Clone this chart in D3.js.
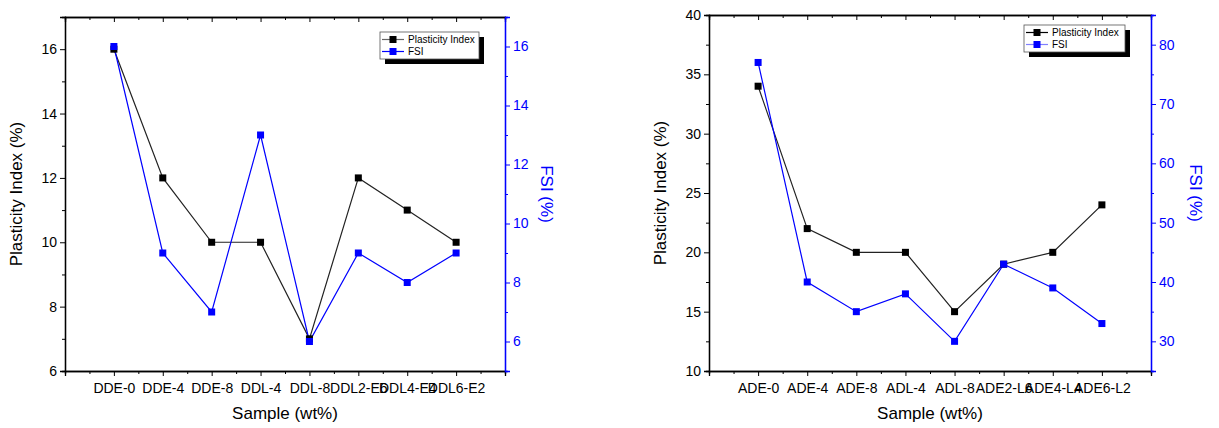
<!DOCTYPE html>
<html><head><meta charset="utf-8">
<script src="https://cdn.jsdelivr.net/npm/d3@7"></script>
<style>body{margin:0;background:#fff;} svg{display:block;font-family:"Liberation Sans",Arial,sans-serif;}</style>
</head><body><svg id="c" width="1219" height="428"></svg>
<script>
const categoriesLeft = ["DDE-0","DDE-4","DDE-8","DDL-4","DDL-8","DDL2-E6","DDL4-E4","DDL6-E2"];
const plasticityLeft = [16,12,10,10,7,12,11,10];
const fsiLeft = [16,9,7,13,6,9,8,9];
const categoriesRight = ["ADE-0","ADE-4","ADE-8","ADL-4","ADL-8","ADE2-L6","ADE4-L4","ADE6-L2"];
const plasticityRight = [34,22,20,20,15,19,20,24];
const fsiRight = [77,40,35,38,30,43,39,33];
const leftPITicks = [6,8,10,12,14,16];
const leftFSITicks = [6,8,10,12,14,16];
const rightPITicks = [10,15,20,25,30,35,40];
const rightFSITicks = [30,40,50,60,70,80];

const svg = d3.select("#c");
const BLUE = "#0000ff";

function panel(o){
  const g = svg.append("g");
  const x = d3.scaleLinear().domain([0, o.cats.length+1]).range([o.x0, o.x1]);
  const y = d3.scaleLinear().domain(o.piDom).range([o.y1, o.y0]);
  const y2 = d3.scaleLinear().domain(o.fsiDom).range([o.y1, o.y0]);
  const idx = d3.range(1, o.cats.length+1);
  const minorX = d3.range(0.5, o.cats.length+1, 1);

  // bottom axis
  const bx = g.append("g").attr("transform",`translate(0,${o.y1})`)
    .call(d3.axisBottom(x).tickValues(d3.range(0,o.cats.length+2)).tickSize(5).tickFormat(d => (d>=1 && d<=o.cats.length) ? o.cats[d-1] : ""));
  bx.selectAll("text").attr("font-size","14px").attr("dy","1.0em").attr("fill","#000");
  g.append("g").attr("transform",`translate(0,${o.y1})`)
    .call(d3.axisBottom(x).tickValues(minorX).tickSize(3).tickFormat(""));
  // top axis (inward ticks)
  g.append("g").attr("transform",`translate(0,${o.y0})`)
    .call(d3.axisBottom(x).tickValues(d3.range(0,o.cats.length+2)).tickSize(5).tickFormat(""));
  g.append("g").attr("transform",`translate(0,${o.y0})`)
    .call(d3.axisBottom(x).tickValues(minorX).tickSize(3).tickFormat(""));

  // left axis
  const ly = g.append("g").attr("transform",`translate(${o.x0},0)`)
    .call(d3.axisLeft(y).tickValues(o.piTicks).tickSize(5).tickFormat(d3.format("d")));
  ly.selectAll("text").attr("font-size","14px").attr("fill","#000");
  g.append("g").attr("transform",`translate(${o.x0},0)`)
    .call(d3.axisLeft(y).tickValues(o.piMinor).tickSize(3).tickFormat(""));

  // right axis
  const ry = g.append("g").attr("transform",`translate(${o.x1},0)`)
    .call(d3.axisRight(y2).tickValues(o.fsiTicks).tickSize(5).tickFormat(d3.format("d")));
  ry.selectAll("text").attr("font-size","14px").attr("fill",BLUE);
  ry.selectAll("line,path").attr("stroke",BLUE);
  const ry2 = g.append("g").attr("transform",`translate(${o.x1},0)`)
    .call(d3.axisRight(y2).tickValues(o.fsiMinor).tickSize(3).tickFormat(""));
  ry2.selectAll("line,path").attr("stroke",BLUE);
  g.selectAll(".domain").attr("stroke-width",1.3);
  ry.select(".domain").attr("stroke",BLUE);
  ry2.select(".domain").attr("stroke",BLUE);

  // lines
  const lineP = d3.line().x((d,i)=>x(idx[i])).y(d=>y(d));
  const lineF = d3.line().x((d,i)=>x(idx[i])).y(d=>y2(d));
  g.append("path").datum(o.pi).attr("d",lineP).attr("fill","none").attr("stroke","#222").attr("stroke-width",1.2);
  g.append("path").datum(o.fsi).attr("d",lineF).attr("fill","none").attr("stroke",BLUE).attr("stroke-width",1.2);
  const ms = 7;
  g.selectAll(".mp").data(o.pi).enter().append("rect")
    .attr("x",(d,i)=>x(idx[i])-ms/2).attr("y",d=>y(d)-ms/2).attr("width",ms).attr("height",ms).attr("fill","#000");
  g.selectAll(".mf").data(o.fsi).enter().append("rect")
    .attr("x",(d,i)=>x(idx[i])-ms/2).attr("y",d=>y2(d)-ms/2).attr("width",ms).attr("height",ms).attr("fill",BLUE);

  // titles
  g.append("text").attr("x",(o.x0+o.x1)/2).attr("y",o.y1+48).attr("text-anchor","middle").attr("font-size","17px").text("Sample (wt%)");
  g.append("text").attr("transform",`translate(${o.yl},${(o.y0+o.y1)/2}) rotate(-90)`).attr("text-anchor","middle").attr("font-size","17px").text("Plasticity Index (%)");
  g.append("text").attr("transform",`translate(${o.yr},${(o.y0+o.y1)/2}) rotate(90)`).attr("text-anchor","middle").attr("font-size","17px").attr("fill",BLUE).text("FSI (%)");

  // legend
  const L = o.leg;
  g.append("rect").attr("x",L.x+5).attr("y",L.y+5).attr("width",L.w).attr("height",L.h).attr("fill","#000");
  g.append("rect").attr("x",L.x).attr("y",L.y).attr("width",L.w).attr("height",L.h).attr("fill","#fff").attr("stroke","#555").attr("stroke-width",0.8);
  const items = [{t:"Plasticity Index",c:"#000",lc:o.legLine1},{t:"FSI",c:BLUE,lc:o.legLine2}];
  items.forEach((it,i)=>{
    const yy = L.y + 7.5 + i*12;
    g.append("line").attr("x1",L.x+2).attr("x2",L.x+24).attr("y1",yy).attr("y2",yy).attr("stroke",it.lc).attr("stroke-width",1.2);
    g.append("rect").attr("x",L.x+13-3.5).attr("y",yy-3.5).attr("width",7).attr("height",7).attr("fill",it.c);
    g.append("text").attr("x",L.x+28).attr("y",yy+3.5).attr("font-size","10px").text(it.t);
  });
}

panel({cats:categoriesLeft, pi:plasticityLeft, fsi:fsiLeft, x0:65, x1:505, y0:17, y1:371,
  piDom:[6,17], fsiDom:[5,17], piTicks:leftPITicks, piMinor:[7,9,11,13,15,17], fsiTicks:leftFSITicks, fsiMinor:[7,9,11,13,15],
  yl:22, yr:541, leg:{x:380,y:32,w:99,h:27}, legLine1:"#666", legLine2:BLUE});
panel({cats:categoriesRight, pi:plasticityRight, fsi:fsiRight, x0:709, x1:1151, y0:15, y1:371,
  piDom:[10,40], fsiDom:[25,85], piTicks:rightPITicks, piMinor:[12.5,17.5,22.5,27.5,32.5,37.5], fsiTicks:rightFSITicks, fsiMinor:[35,45,55,65,75],
  yl:666, yr:1190, leg:{x:1024,y:25,w:101,h:27}, legLine1:"#000", legLine2:"#8080ff"});
</script></body></html>
